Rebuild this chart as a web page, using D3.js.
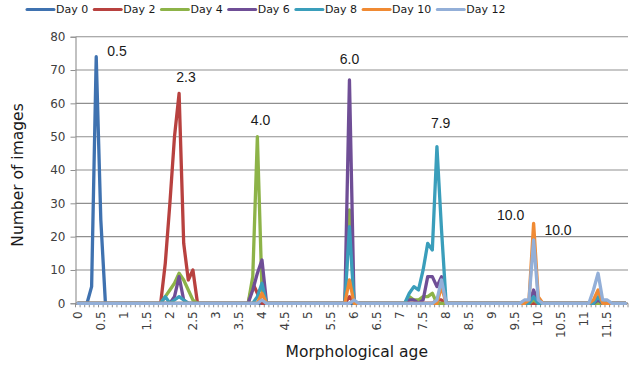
<!DOCTYPE html>
<html><head><meta charset="utf-8">
<script src="https://cdn.jsdelivr.net/npm/d3@7"></script>
<style>body{margin:0;background:#fff}svg{display:block}</style>
</head><body>
<script>
// Categories: morphological age (0.0 .. 11.9 in 0.1 steps)
const ages = [
 0,0.1,0.2,0.3,0.4,0.5,0.6,0.7,0.8,0.9,
 1,1.1,1.2,1.3,1.4,1.5,1.6,1.7,1.8,1.9,
 2,2.1,2.2,2.3,2.4,2.5,2.6,2.7,2.8,2.9,
 3,3.1,3.2,3.3,3.4,3.5,3.6,3.7,3.8,3.9,
 4,4.1,4.2,4.3,4.4,4.5,4.6,4.7,4.8,4.9,
 5,5.1,5.2,5.3,5.4,5.5,5.6,5.7,5.8,5.9,
 6,6.1,6.2,6.3,6.4,6.5,6.6,6.7,6.8,6.9,
 7,7.1,7.2,7.3,7.4,7.5,7.6,7.7,7.8,7.9,
 8,8.1,8.2,8.3,8.4,8.5,8.6,8.7,8.8,8.9,
 9,9.1,9.2,9.3,9.4,9.5,9.6,9.7,9.8,9.9,
 10,10.1,10.2,10.3,10.4,10.5,10.6,10.7,10.8,10.9,
 11,11.1,11.2,11.3,11.4,11.5,11.6,11.7,11.8,11.9
];
const xTickLabels = [0,0.5,1,1.5,2,2.5,3,3.5,4,4.5,5,5.5,6,6.5,7,7.5,8,8.5,9,9.5,10,10.5,11,11.5];
const yTicks = [0,10,20,30,40,50,60,70,80];

const day0 = [
 0,0,0,5,74,25,0,0,0,0,  0,0,0,0,0,0,0,0,0,0,  0,0,0,0,0,0,0,0,0,0,
 0,0,0,0,0,0,0,0,0,0,    0,0,0,0,0,0,0,0,0,0,  0,0,0,0,0,0,0,0,0,0,
 0,0,0,0,0,0,0,0,0,0,    0,0,0,0,0,0,0,0,0,0,  0,0,0,0,0,0,0,0,0,0,
 0,0,0,0,0,0,0,0,0,0,    0,0,0,0,0,0,0,0,0,0,  0,0,0,0,0,0,0,0,0,0];
const day2 = [
 0,0,0,0,0,0,0,0,0,0,  0,0,0,0,0,0,0,0,0,12,  30,50,63,18,7,10,0,0,0,0,
 0,0,0,0,0,0,0,0,6,3,  0,0,0,0,0,0,0,0,0,0,   0,0,0,0,0,0,0,0,0,2,
 0,0,0,0,0,0,0,0,0,0,  0,0,0,0,0,0,0,0,1,1,   0,0,0,0,0,0,0,0,0,0,
 0,0,0,0,0,0,0,0,0,0,  0,0,0,0,0,0,0,0,0,0,   0,0,0,0,0,0,0,0,0,0];
const day4 = [
 0,0,0,0,0,0,0,0,0,0,  0,0,0,0,0,0,0,0,0,2,   4,6,9,7,4,1,0,0,0,0,
 0,0,0,0,0,0,0,0,8,50, 4,0,0,0,0,0,0,0,0,0,   0,0,0,0,0,0,0,0,0,28,
 0,0,0,0,0,0,0,0,0,0,  0,0,2,1,1,2,2,3,0,0,   0,0,0,0,0,0,0,0,0,0,
 0,0,0,0,0,0,0,0,0,1,  0,0,0,0,0,0,0,0,0,0,   0,0,0,0,0,0,0,0,0,0];
const day6 = [
 0,0,0,0,0,0,0,0,0,0,  0,0,0,0,0,0,0,0,0,0,   0,2,8,1,0,0,0,0,0,0,
 0,0,0,0,0,0,0,0,4,9,  13,0,0,0,0,0,0,0,0,0,  0,0,0,0,0,0,0,0,0,67,
 0,0,0,0,0,0,0,0,0,0,  0,0,1,1,0,1,8,8,5,8,   0,0,0,0,0,0,0,0,0,0,
 0,0,0,0,0,0,0,0,0,4,  0,0,0,0,0,0,0,0,0,0,   0,0,0,1,0,0,0,0,0,0];
const day8 = [
 0,0,0,0,0,0,0,0,0,0,  0,0,0,0,0,0,0,0,0,2,   0,1,2,1,0,0,0,0,0,0,
 0,0,0,0,0,0,0,0,0,2,  6,0,0,0,0,0,0,0,0,0,   0,0,0,0,0,0,0,0,0,23,
 0,0,0,0,0,0,0,0,0,0,  0,0,3,5,4,10,18,16,47,22, 0,0,0,0,0,0,0,0,0,0,
 0,0,0,0,0,0,0,0,0,2,  0,0,0,0,0,0,0,0,0,0,   0,0,0,2,0,0,0,0,0,0];
const day10 = [
 0,0,0,0,0,0,0,0,0,0,  0,0,0,0,0,0,0,0,0,0,   0,0,0,0,0,0,0,0,0,0,
 0,0,0,0,0,0,0,0,0,0,  3,0,0,0,0,0,0,0,0,0,   0,0,0,0,0,0,0,0,0,7,
 0,0,0,0,0,0,0,0,0,0,  0,0,0,0,0,0,0,0,0,5,   0,0,0,0,0,0,0,0,0,0,
 0,0,0,0,0,0,0,0,1,24, 2,0,0,0,0,0,0,0,0,0,   0,0,1,4,0,0,0,0,0,0];
const day12 = [
 0,0,0,0,0,0,0,0,0,0,  0,0,0,0,0,0,0,0,0,0,   0,0,0,0,0,0,0,0,0,0,
 0,0,0,0,0,0,0,0,0,0,  1,0,0,0,0,0,0,0,0,0,   0,0,0,0,0,0,0,0,0,0,
 1,0,0,0,0,0,0,0,0,0,  0,0,0,0,0,0,0,0,1,7,   0,0,0,0,0,0,0,0,0,0,
 0,0,0,0,0,0,0,1,1,19, 1,0,0,0,0,0,0,0,0,0,   0,0,4,9,1,1,0,0,0,0];

const seriesNames = ["Day 0","Day 2","Day 4","Day 6","Day 8","Day 10","Day 12"];
const seriesValues = [day0, day2, day4, day6, day8, day10, day12];
const colors = ["#3f72b0","#b8413f","#8db348","#6f4e96","#3a9ebb","#f08a33","#93afd8"];

// Peak annotations: [text, age position, value position]
const annText = ["0.5","2.3","4.0","6.0","7.9","10.0","10.0"];
const annAge  = [0.85, 2.35, 3.97, 5.9, 7.88, 9.4, 10.43];
const annVal  = [75.8, 68, 55, 73.2, 54.1, 26.5, 22];

const W = 641, H = 366;
const M = {left: 75.5, right: 628, top: 36.7, bottom: 303.3};

const svg = d3.select("body").append("svg").attr("width", W).attr("height", H);

const x = d3.scaleBand().domain(ages).range([M.left, M.right]).padding(0);
const cx = a => x(a) + x.bandwidth() / 2;
const xAge = d3.scaleLinear().domain([0, 11.9]).range([cx(0), cx(11.9)]);
const y = d3.scaleLinear().domain([0, 80]).range([M.bottom, M.top]);

// gridlines
svg.append("g").selectAll("line").data(yTicks.filter(d => d > 0)).join("line")
  .attr("x1", M.left).attr("x2", M.right)
  .attr("y1", d => y(d)).attr("y2", d => y(d))
  .attr("stroke", "#8f8f8f").attr("stroke-width", 1.1);

// y axis
const yAxis = svg.append("g").attr("transform", `translate(${M.left},0)`)
  .call(d3.axisLeft(y).tickValues(yTicks).tickSize(5).tickPadding(5));
yAxis.select(".domain").attr("stroke", "#8f8f8f").attr("stroke-width", 1.1);
yAxis.selectAll(".tick line").attr("stroke", "#8f8f8f");
yAxis.selectAll("text").attr("font-family", "DejaVu Sans, sans-serif").attr("font-size", 12).attr("fill", "#404040");

// x axis: minor ticks at band boundaries
const bounds = ages.map(a => x(a)).concat([x(ages[ages.length - 1]) + x.bandwidth()]);
svg.append("g").selectAll("line").data(bounds).join("line")
  .attr("x1", d => d).attr("x2", d => d)
  .attr("y1", M.bottom).attr("y2", M.bottom + 4)
  .attr("stroke", "#8f8f8f").attr("stroke-width", 1);
svg.append("line").attr("x1", M.left).attr("x2", M.right).attr("y1", M.bottom).attr("y2", M.bottom)
  .attr("stroke", "#8f8f8f").attr("stroke-width", 1.1);

// x tick labels (rotated)
svg.append("g").selectAll("text").data(xTickLabels).join("text")
  .attr("transform", d => `translate(${cx(d)},${M.bottom + 8}) rotate(-90)`)
  .attr("text-anchor", "end").attr("dy", "0.35em")
  .attr("font-family", "DejaVu Sans, sans-serif").attr("font-size", 12).attr("fill", "#404040")
  .text(d => String(d));

// lines
const line = d3.line().x((d, i) => cx(ages[i])).y(d => y(d));
svg.append("g").selectAll("path").data(seriesValues).join("path")
  .attr("d", d => line(d))
  .attr("fill", "none")
  .attr("stroke", (d, i) => colors[i])
  .attr("stroke-width", 3.3)
  .attr("stroke-linejoin", "round")
  .attr("stroke-linecap", "round");

// annotations
svg.append("g").selectAll("text").data(annText).join("text")
  .attr("x", (d, i) => xAge(annAge[i]))
  .attr("y", (d, i) => y(annVal[i]))
  .attr("dy", "0.35em").attr("text-anchor", "middle")
  .attr("font-family", "Liberation Sans, Arial, sans-serif").attr("font-size", 14).attr("fill", "#1a1a1a")
  .text(d => d);

// axis titles
svg.append("text").attr("x", (M.left + M.right) / 2 + 5).attr("y", 357)
  .attr("text-anchor", "middle").attr("font-family", "DejaVu Sans, sans-serif").attr("font-size", 15.5)
  .attr("fill", "#1a1a1a").text("Morphological age");
svg.append("text").attr("transform", `translate(23,${(M.top + M.bottom) / 2 + 5}) rotate(-90)`)
  .attr("text-anchor", "middle").attr("font-family", "DejaVu Sans, sans-serif").attr("font-size", 15.5)
  .attr("fill", "#1a1a1a").text("Number of images");

// legend
const leg = svg.append("g").attr("transform", "translate(27,9.5)");
let lx = 0;
seriesNames.forEach((name, i) => {
  const g = leg.append("g").attr("transform", `translate(${lx},0)`);
  g.append("line").attr("x1", 0).attr("x2", 27).attr("y1", 0).attr("y2", 0)
    .attr("stroke", colors[i]).attr("stroke-width", 3).attr("stroke-linecap", "round");
  const t = g.append("text").attr("x", 29).attr("dy", "0.35em")
    .attr("font-family", "DejaVu Sans, sans-serif").attr("font-size", 11).attr("fill", "#1a1a1a").text(name);
  lx += 29 + t.node().getComputedTextLength() + 6;
});
</script>
</body></html>
